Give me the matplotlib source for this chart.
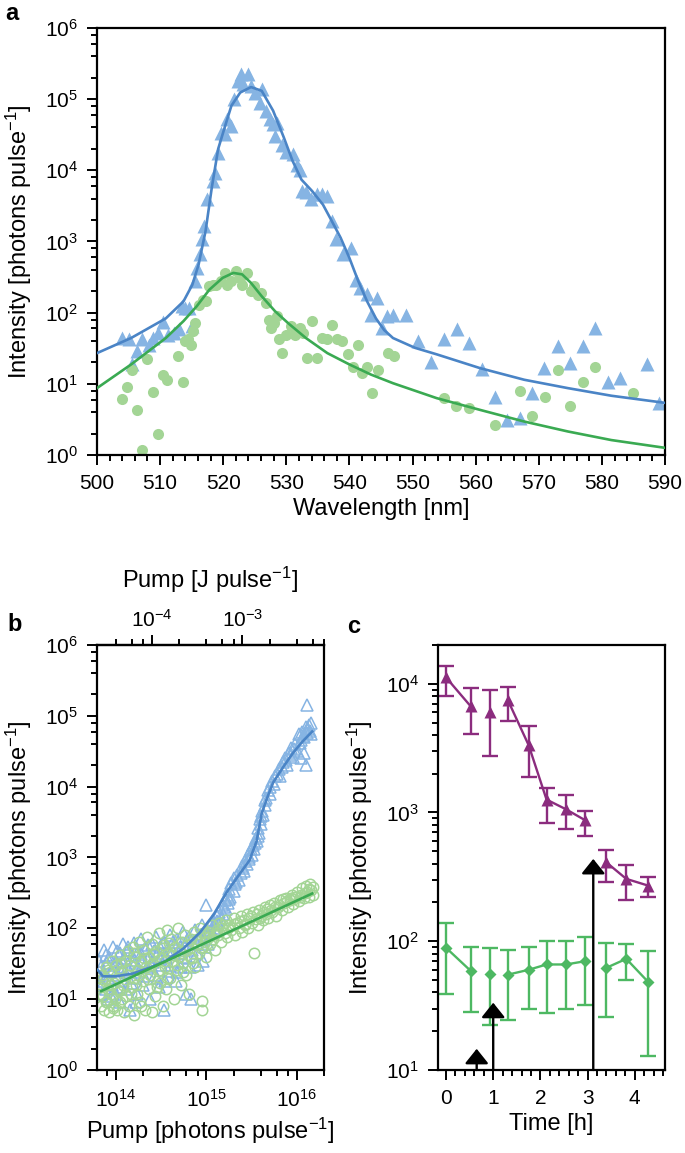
import numpy as np
import matplotlib
matplotlib.use("Agg")
import matplotlib.pyplot as plt
from matplotlib.ticker import LogLocator, MultipleLocator, NullFormatter

plt.rcParams["font.family"] = ["Liberation Sans", "DejaVu Sans"]
plt.rcParams["mathtext.fontset"] = "custom"
plt.rcParams["mathtext.rm"] = "Liberation Sans"
plt.rcParams["mathtext.it"] = "Liberation Sans:italic"
plt.rcParams["mathtext.bf"] = "Liberation Sans:bold"

# ---------------- panel a: spectra ----------------
wl_tri = [504.0, 505.0, 505.6, 506.4, 507.1, 508.2, 508.9, 509.7, 510.4, 511.3, 512.2, 513.0,
          513.4, 514.0, 514.5, 515.1, 515.6, 515.9, 516.3, 516.6, 517.0, 517.5, 518.4, 518.7,
          519.2, 519.6, 520.3, 520.6, 521.3, 521.7, 522.4, 522.8, 523.2, 523.9, 524.4, 525.1,
          526.1, 525.8, 526.8, 527.4, 527.9, 528.6, 528.2, 529.3, 529.9, 531.0, 531.7, 532.2,
          532.5, 533.1, 533.9, 534.8, 535.7, 536.4, 537.2, 537.9, 539.0, 540.3, 541.0, 541.7,
          542.8, 544.3, 543.4, 545.2, 545.9, 546.9, 549.0, 550.9, 553.0, 555.0, 557.0, 559.0,
          561.0, 563.0, 564.9, 567.0, 568.9, 570.9, 573.0, 574.9, 577.0, 578.9, 581.0, 582.9,
          587.1, 589.1]
int_tri = [44, 42, 18.7, 29, 42, 35, 44, 52, 75, 49, 52, 58,
           123, 117, 117, 65, 277, 424, 660, 1070, 1660, 3900, 7100, 9300,
           17800, 34000, 32000, 52000, 42000, 100000, 180000, 224000, 166000, 224000, 155000, 124000,
           138000, 89000, 69000, 52000, 45000, 47000, 30000, 23000, 18000, 17000, 12000, 10200,
           5100, 4900, 3900, 4600, 4600, 4300, 1940, 1070, 660, 820, 290, 222,
           180, 160, 94, 60, 89, 94, 94, 40, 20, 42, 58, 37,
           16, 6.6, 3.1, 3.3, 7.4, 16.6, 34, 19.5, 34, 60, 10.7, 12,
           18.7, 5.4]

wl_circ = [504.0, 504.8, 505.6, 506.4, 507.1, 508.0, 508.9, 509.7, 510.4, 511.1, 512.9, 513.7,
           514.0, 514.4, 514.9, 515.2, 515.6, 516.1, 516.8, 517.3, 517.8, 518.4, 518.9, 519.6,
           520.3, 520.6, 521.3, 522.0, 522.6, 523.0, 523.7, 524.4, 524.8, 525.5, 526.0, 526.7,
           527.2, 527.5, 528.1, 528.6, 528.9, 529.3, 529.9, 530.7, 531.3, 532.2, 532.7, 533.2,
           534.1, 534.8, 535.7, 536.4, 537.2, 538.1, 538.8, 539.7, 540.6, 541.3, 542.0, 542.8,
           543.6, 544.5, 546.1, 547.1, 555.0, 556.9, 559.0, 563.0, 567.0, 568.9, 571.0, 573.0,
           574.9, 577.0, 578.9, 584.9]
int_circ = [6.1, 9.1, 15.8, 4.3, 1.17, 22, 7.6, 1.95, 13.5, 11.2, 24.5, 10.5,
            40, 42, 35, 55, 71, 128, 152, 144, 234, 246, 246, 277,
            362, 246, 277, 390, 308, 246, 362, 200, 234, 178, 190, 138,
            80, 60, 71, 89, 42, 27, 49, 65, 49, 60, 52, 23,
            76, 23, 44, 42, 68, 42, 40, 26, 17.5, 35, 14.1, 17.5,
            7.4, 15.8, 27, 24.5, 6.3, 4.8, 4.5, 2.6, 7.8, 3.5, 6.5, 15.8,
            4.8, 10.7, 17.5, 7.4]

fit_blue_wl = [500.0, 505.4, 510.9, 513.7, 515.1, 516.1, 517.2, 518.2, 519.2, 520.3, 521.3,
               522.7, 524.4, 526.1, 527.9, 529.6, 531.0, 532.4, 534.1, 535.8, 537.2, 538.6,
               540.0, 541.4, 542.8, 544.2, 545.5, 546.9, 550.4, 553.8, 560.7, 567.7, 574.6,
               581.5, 590.0]
fit_blue_int = [27, 44, 83, 144, 246, 475, 1400, 5800, 20000, 42000, 81000,
                124000, 148000, 131000, 69000, 29000, 13500, 7400, 5100, 3300, 1940, 1130,
                585, 277, 144, 83, 57, 44, 32, 26, 16.6, 11.4, 8.7,
                6.8, 5.4]
fit_green_wl = [500.0, 505.4, 510.9, 513.7, 515.8, 517.8, 519.9, 521.6, 523.0, 524.4, 526.1,
                528.2, 530.3, 533.1, 536.5, 540.0, 543.4, 546.9, 553.8, 560.7, 567.7, 574.6,
                581.5, 590.0]
fit_green_int = [8.7, 18.7, 44, 76, 123, 210, 308, 362, 345, 262, 170,
                 105, 71, 44, 27, 18.7, 13.5, 10.2, 6.3, 4.3, 2.95, 2.14,
                 1.62, 1.26]

# ---------------- panel b: input-output ----------------
pump_tri = [6.8e13, 6.8e13, 7.0e13, 7.2e13, 7.5e13, 7.8e13, 8.0e13, 8.2e13, 8.5e13, 8.8e13,
            9.0e13, 9.3e13, 9.6e13, 1.0e14, 1.0e14, 1.05e14, 1.1e14, 1.1e14, 1.15e14, 1.2e14,
            1.2e14, 1.25e14, 1.3e14, 1.35e14, 1.4e14, 1.45e14, 1.5e14, 1.55e14, 1.6e14, 1.65e14,
            1.7e14, 1.75e14, 1.8e14, 1.9e14, 1.95e14, 2.0e14, 2.1e14, 2.2e14, 2.3e14, 2.4e14,
            2.5e14, 2.6e14, 2.7e14, 2.8e14, 2.9e14, 3.0e14, 3.1e14, 3.2e14, 3.4e14, 3.4e14,
            3.6e14, 3.8e14, 4.0e14, 4.2e14, 4.4e14, 4.6e14, 4.8e14, 5.0e14, 5.2e14, 5.5e14,
            5.8e14, 6.0e14, 6.2e14, 6.5e14, 6.8e14, 7.0e14, 7.5e14, 7.8e14, 8.0e14, 8.5e14,
            9.0e14, 9.5e14, 1.0e15, 1.0e15, 1.05e15,
            6.6e13, 7.1e13, 7.7e13, 8.3e13, 8.9e13, 9.4e13, 1.03e14, 1.13e14, 1.18e14, 1.28e14,
            1.38e14, 1.48e14, 1.58e14, 1.68e14, 1.78e14, 1.88e14, 2.05e14, 2.25e14, 2.45e14, 2.65e14,
            2.85e14, 3.05e14, 3.3e14, 3.5e14, 3.7e14, 3.9e14, 4.3e14, 4.7e14, 5.1e14, 5.6e14,
            6.1e14, 6.6e14, 7.2e14, 7.9e14, 8.7e14, 9.2e14, 9.8e14, 1.12e15, 1.22e15, 1.32e15,
            1.1e15, 1.15e15, 1.2e15, 1.25e15, 1.3e15, 1.35e15, 1.4e15, 1.45e15, 1.5e15, 1.55e15,
            1.6e15, 1.65e15, 1.7e15, 1.75e15, 1.8e15, 1.85e15, 1.9e15, 2.0e15, 2.0e15, 2.1e15,
            2.2e15, 2.3e15, 2.4e15, 2.5e15, 2.6e15, 2.7e15, 2.8e15, 2.9e15, 3.0e15, 3.1e15,
            3.2e15, 3.3e15, 3.4e15, 3.5e15, 3.6e15, 3.7e15, 3.8e15, 3.9e15, 4.0e15, 4.1e15,
            4.2e15, 4.4e15, 4.6e15, 4.8e15, 5.0e15, 5.3e15, 5.6e15, 6.0e15, 6.3e15, 6.6e15,
            7.0e15, 7.4e15, 7.8e15, 8.2e15, 8.6e15, 9.0e15, 9.5e15, 1.0e16, 1.05e16, 1.1e16,
            1.15e16, 1.2e16, 1.25e16, 1.3e16, 1.3e16, 1.35e16, 1.4e16, 1.25e16, 1.1e16, 1.45e16,
            1.58e15, 1.78e15, 2.15e15, 2.55e15, 2.95e15, 3.45e15, 3.75e15, 4.05e15, 4.5e15, 5.1e15,
            5.8e15, 6.8e15, 7.6e15, 8.4e15, 9.3e15, 1.08e16, 1.18e16, 1.32e16, 1.42e16, 1.2e16]
out_tri = [28, 18, 12, 22, 50, 14, 32, 10, 40, 25,
           16, 55, 30, 12, 35, 22, 45, 9, 28, 60,
           18, 38, 14, 50, 26, 7, 42, 20, 62, 32,
           12, 46, 24, 70, 35, 16, 52, 28, 40, 10,
           60, 33, 22, 75, 45, 15, 55, 30, 7, 65,
           40, 25, 80, 50, 35, 18, 70, 45, 28, 90,
           55, 12, 38, 75, 10, 50, 95, 60, 30, 80,
           110, 70, 215, 90, 60,
           35, 16, 42, 20, 11, 27, 48, 15, 33, 24,
           55, 17, 36, 9, 28, 44, 21, 58, 30, 48,
           20, 38, 62, 18, 50, 30, 65, 24, 55, 40,
           68, 28, 60, 45, 75, 35, 55, 95, 115, 125,
           110, 85, 130, 100, 150, 120, 170, 135, 210, 160,
           250, 190, 300, 230, 360, 280, 430, 340, 520, 420,
           560, 480, 600, 750, 650, 900, 800, 1100, 950, 1300,
           1100, 1500, 1300, 1900, 1700, 2600, 2200, 3500, 3000, 4500,
           4000, 6500, 7000, 9000, 8000, 12000, 11000, 15000, 18000, 14000,
           22000, 25000, 20000, 30000, 35000, 26000, 40000, 32000, 55000, 45000,
           60000, 50000, 70000, 140000, 58000, 75000, 62000, 20000, 25000, 55000,
           200, 260, 450, 700, 1000, 1600, 2000, 3800, 5500, 10000,
           14000, 19000, 24000, 28000, 34000, 42000, 52000, 65000, 80000, 30000]

pump_circ = [6.8e13, 6.8e13, 7.0e13, 7.2e13, 7.4e13, 7.6e13, 7.8e13, 8.0e13, 8.2e13, 8.4e13,
             8.6e13, 8.8e13, 9.0e13, 9.2e13, 9.5e13, 9.8e13, 1.0e14, 1.02e14, 1.05e14, 1.08e14,
             1.1e14, 1.12e14, 1.15e14, 1.2e14, 1.22e14, 1.25e14, 1.3e14, 1.33e14, 1.36e14, 1.4e14,
             1.45e14, 1.5e14, 1.55e14, 1.6e14, 1.6e14, 1.65e14, 1.7e14, 1.75e14, 1.8e14, 1.85e14,
             1.9e14, 2.0e14, 2.0e14, 2.1e14, 2.15e14, 2.2e14, 2.3e14, 2.35e14, 2.4e14, 2.5e14,
             2.5e14, 2.6e14, 2.7e14, 2.8e14, 2.9e14, 3.0e14, 3.1e14, 3.2e14, 3.3e14, 3.4e14,
             3.5e14, 3.6e14, 3.7e14, 3.8e14, 4.0e14, 4.1e14, 4.2e14, 4.4e14, 4.5e14, 4.7e14,
             4.9e14, 5.0e14, 5.2e14, 5.4e14, 5.6e14, 5.8e14, 6.0e14, 6.2e14, 6.5e14, 6.7e14,
             7.0e14, 7.3e14, 7.6e14, 8.0e14, 8.3e14, 8.6e14, 9.0e14, 9.0e14, 9.3e14, 9.6e14,
             1.0e15,
             6.6e13, 7.1e13, 7.7e13, 8.3e13, 8.9e13, 9.4e13, 1.03e14, 1.13e14, 1.18e14, 1.28e14,
             1.38e14, 1.48e14, 1.58e14, 1.68e14, 1.78e14, 1.88e14, 2.05e14, 2.25e14, 2.45e14, 2.65e14,
             2.85e14, 3.05e14, 3.3e14, 3.5e14, 3.7e14, 3.9e14, 4.3e14, 4.7e14, 5.1e14, 5.6e14,
             6.1e14, 6.6e14, 7.2e14, 7.9e14, 8.7e14, 9.2e14, 9.8e14,
             1.05e15, 1.1e15, 1.15e15, 1.2e15, 1.25e15, 1.3e15, 1.35e15, 1.4e15, 1.45e15, 1.5e15,
             1.6e15, 1.65e15, 1.7e15, 1.8e15, 1.9e15, 2.0e15, 2.1e15, 2.2e15, 2.3e15, 2.4e15,
             2.5e15, 2.6e15, 2.7e15, 2.8e15, 2.9e15, 3.0e15, 3.2e15, 3.3e15, 3.4e15, 3.5e15,
             3.7e15, 3.8e15, 4.0e15, 4.2e15, 4.4e15, 4.6e15, 4.8e15, 5.0e15, 5.3e15, 5.6e15,
             5.9e15, 6.2e15, 6.5e15, 6.8e15, 7.2e15, 7.6e15, 8.0e15, 8.4e15, 8.8e15, 9.2e15,
             9.6e15, 1.0e16, 1.05e16, 1.1e16, 1.15e16, 1.2e16, 1.25e16, 1.3e16, 1.35e16, 1.4e16,
             1.45e16, 1.5e16, 1.5e16,
             1.07e15, 1.28e15, 1.55e15, 1.75e15, 2.05e15, 2.35e15, 2.65e15, 3.1e15, 3.6e15, 3.9e15,
             4.3e15, 4.7e15, 5.2e15, 5.7e15, 6.4e15, 7.0e15, 7.8e15, 8.6e15, 9.4e15, 1.08e16,
             1.22e16, 1.38e16]
out_circ = [8, 15, 22, 11, 7, 18, 28, 9, 14, 6.5,
            24, 12, 35, 8, 17, 10, 30, 7, 20, 13,
            42, 9, 25, 16, 6.5, 35, 11, 22, 48, 8,
            30, 15, 55, 20, 6, 40, 12, 26, 65, 9,
            33, 18, 50, 7, 28, 75, 14, 40, 22, 6.5,
            60, 32, 11, 48, 25, 85, 17, 38, 8, 58,
            28, 14, 95, 45, 20, 70, 35, 10, 55, 26,
            100, 40, 16, 65, 32, 80, 22, 50, 12, 70,
            38, 90, 28, 60, 45, 100, 7, 9.5, 55, 75,
            40,
            12, 19, 9, 26, 16, 7.5, 14, 32, 10, 19,
            27, 12, 45, 16, 22, 8, 38, 19, 30, 44,
            15, 26, 52, 35, 20, 62, 42, 30, 48, 24,
            58, 40, 32, 70, 52, 85, 65,
            90, 60, 110, 70, 50, 95, 80, 120, 65, 100,
            85, 130, 75, 110, 95, 140, 80, 120, 100, 150,
            90, 130, 110, 160, 100, 140, 120, 170, 45, 135,
            110, 180, 150, 130, 200, 160, 140, 210, 170, 230,
            150, 200, 250, 180, 230, 270, 200, 250, 300, 220,
            280, 330, 240, 300, 370, 270, 400, 330, 280, 420,
            350, 300, 380,
            75, 85, 110, 100, 115, 125, 115, 150, 160, 140,
            170, 190, 180, 200, 210, 260, 240, 270, 260, 280,
            320, 360]

fit_b_blue_p = [6.3e13, 7.2e13, 1.0e14, 1.55e14, 2.4e14, 3.6e14, 5.6e14, 8.5e14, 1.2e15, 1.7e15,
                2.35e15, 3.0e15, 3.6e15, 4.1e15, 4.7e15, 5.5e15, 7.1e15, 9.1e15, 1.17e16, 1.48e16]
fit_b_blue_i = [26, 21, 21, 23, 28, 35, 52, 87, 155, 330,
                590, 910, 1700, 4200, 6900, 11500, 19000, 30000, 44000, 60000]
fit_b_green_p = [6.9e13, 1.48e16]
fit_b_green_i = [13, 310]

# ---------------- panel c: stability ----------------
time_h = [0.0, 0.52, 0.93, 1.31, 1.75, 2.13, 2.54, 2.95, 3.39, 3.82, 4.29]
purple = [11200, 6700, 6000, 7460, 3340, 1260, 1060, 870, 412, 305, 270]
purple_hi = [13700, 9200, 8900, 9400, 4680, 1560, 1370, 1020, 515, 390, 315]
purple_lo = [8000, 4100, 2770, 5150, 1890, 830, 745, 660, 290, 210, 220]
green = [89, 59, 56, 55, 60, 66, 66, 70, 62, 73, 48]
green_hi = [138, 90, 88, 85, 91, 100, 100, 107, 97, 95, 84]
green_lo = [39, 28, 22.5, 24.5, 29.5, 27.5, 30, 32, 26, 50, 12.9]
segments = [[0, 1], [2], [3, 4, 5, 6, 7], [8, 9, 10]]
arrow_t = [0.65, 1.0, 3.12]
arrow_top = [14.6, 33.3, 436]

C_TRI = "#86b4e3"
C_BLUE = "#4a84c6"
C_CIRC = "#a3d595"
C_GREEN = "#3aaa52"
C_PURPLE = "#8b2c7e"
C_GREEN_C = "#4db862"

FS_TICK = 15
FS_LAB = 17


def style(ax, subs=(2, 4, 6, 8)):
    for s in ax.spines.values():
        s.set_linewidth(1.6)
    ax.tick_params(which="both", direction="out", width=1.4, labelsize=FS_TICK,
                   top=False, right=False)
    ax.tick_params(axis="x", pad=6)
    ax.tick_params(axis="y", pad=6)
    ax.tick_params(which="major", length=7.5)
    ax.tick_params(which="minor", length=4.5)
    ax.yaxis.set_major_locator(LogLocator(base=10, numticks=12))
    ax.yaxis.set_minor_locator(LogLocator(base=10, subs=subs, numticks=12))
    ax.yaxis.set_minor_formatter(NullFormatter())


fig = plt.figure(figsize=(6.85, 11.53), dpi=100)

# --- a
ax = fig.add_axes([0.1416, 0.6054, 0.8292, 0.3703])
ax.set_yscale("log")
ax.plot(wl_tri, int_tri, "^", color=C_TRI, ms=9.5, mec="none", zorder=2)
ax.plot(wl_circ, int_circ, "o", color=C_CIRC, ms=8, mec="none", zorder=2)
ax.plot(fit_blue_wl, fit_blue_int, "-", color=C_BLUE, lw=1.9, zorder=3)
ax.plot(fit_green_wl, fit_green_int, "-", color=C_GREEN, lw=1.9, zorder=3)
ax.set_xlim(500, 590)
ax.set_ylim(1, 1e6)
ax.xaxis.set_major_locator(MultipleLocator(10))
ax.xaxis.set_minor_locator(MultipleLocator(2))
style(ax)
ax.set_xlabel("Wavelength [nm]", fontsize=FS_LAB, labelpad=4)
ax.set_ylabel("Intensity [photons pulse$^{-1}$]", fontsize=FS_LAB, labelpad=8)
fig.text(0.018, 0.988, "a", fontsize=17, fontweight="bold", va="center", ha="center")

# --- b
ax = fig.add_axes([0.1416, 0.0720, 0.3314, 0.3686])
ax.set_xscale("log")
ax.set_yscale("log")
ax.plot(pump_tri, out_tri, "^", mfc="none", mec=C_TRI, ms=9, mew=1.1, zorder=2)
ax.plot(pump_circ, out_circ, "o", mfc="none", mec=C_CIRC, ms=7.5, mew=1.1, zorder=2)
ax.plot(fit_b_blue_p, fit_b_blue_i, "-", color=C_BLUE, lw=1.9, zorder=3)
ax.plot(fit_b_green_p, fit_b_green_i, "-", color=C_GREEN, lw=1.9, zorder=3)
ax.set_xlim(6.2e13, 2.0e16)
ax.set_ylim(1, 1e6)
style(ax)
ax.xaxis.set_major_locator(LogLocator(base=10, numticks=12))
ax.xaxis.set_minor_locator(LogLocator(base=10, subs=(2, 4, 6, 8), numticks=12))
ax.xaxis.set_minor_formatter(NullFormatter())
ax.set_xlabel("Pump [photons pulse$^{-1}$]", fontsize=FS_LAB, labelpad=4)
ax.set_ylabel("Intensity [photons pulse$^{-1}$]", fontsize=FS_LAB, labelpad=8)

PH_PER_J = 2.5e18
sec = ax.secondary_xaxis("top", functions=(lambda p: p / PH_PER_J, lambda j: j * PH_PER_J))
sec.xaxis.set_major_locator(LogLocator(base=10, numticks=12))
sec.xaxis.set_minor_locator(LogLocator(base=10, subs=(2, 4, 6, 8), numticks=12))
sec.xaxis.set_minor_formatter(NullFormatter())
sec.tick_params(which="both", direction="out", width=1.4, labelsize=FS_TICK, pad=3)
sec.tick_params(which="major", length=7.5)
sec.tick_params(which="minor", length=4.5)
sec.spines["top"].set_linewidth(1.6)
sec.set_xlabel("Pump [J pulse$^{-1}$]", fontsize=FS_LAB, labelpad=15)
fig.text(0.022, 0.458, "b", fontsize=17, fontweight="bold", va="center", ha="center")

# --- c
ax = fig.add_axes([0.6394, 0.0720, 0.3314, 0.3686])
ax.set_yscale("log")
ax.errorbar(time_h, purple,
            yerr=[np.subtract(purple, purple_lo), np.subtract(purple_hi, purple)],
            fmt="none", ecolor=C_PURPLE, elinewidth=1.7, capsize=5.5, capthick=1.7, zorder=2)
ax.errorbar(time_h, green,
            yerr=[np.subtract(green, green_lo), np.subtract(green_hi, green)],
            fmt="none", ecolor=C_GREEN_C, elinewidth=1.7, capsize=5.5, capthick=1.7, zorder=2)
for seg in segments:
    ax.plot([time_h[i] for i in seg], [purple[i] for i in seg], "-", color=C_PURPLE,
            lw=1.7, zorder=3)
    ax.plot([time_h[i] for i in seg], [green[i] for i in seg], "-", color=C_GREEN_C,
            lw=1.7, zorder=3)
ax.plot(time_h, purple, "^", color=C_PURPLE, ms=8.5, mec="none", zorder=4)
ax.plot(time_h, green, "D", color=C_GREEN_C, ms=6.5, mec="none", zorder=4)
for t, top in zip(arrow_t, arrow_top):
    ax.annotate("", xy=(t, top), xytext=(t, 10),
                arrowprops=dict(arrowstyle="-|>,head_length=0.45,head_width=0.36",
                                color="black", lw=1.7, mutation_scale=20,
                                shrinkA=0, shrinkB=0), zorder=5)
ax.set_xlim(-0.17, 4.64)
ax.set_ylim(10, 2e4)
style(ax, subs=(2, 3, 4, 5, 6, 7, 8, 9))
ax.xaxis.set_major_locator(MultipleLocator(1))
ax.xaxis.set_minor_locator(MultipleLocator(0.2))
ax.set_xlabel("Time [h]", fontsize=FS_LAB, labelpad=4)
ax.set_ylabel("Intensity [photons pulse$^{-1}$]", fontsize=FS_LAB, labelpad=8)
fig.text(0.516, 0.457, "c", fontsize=17, fontweight="bold", va="center", ha="center")

fig.savefig("out.png", dpi=100)
